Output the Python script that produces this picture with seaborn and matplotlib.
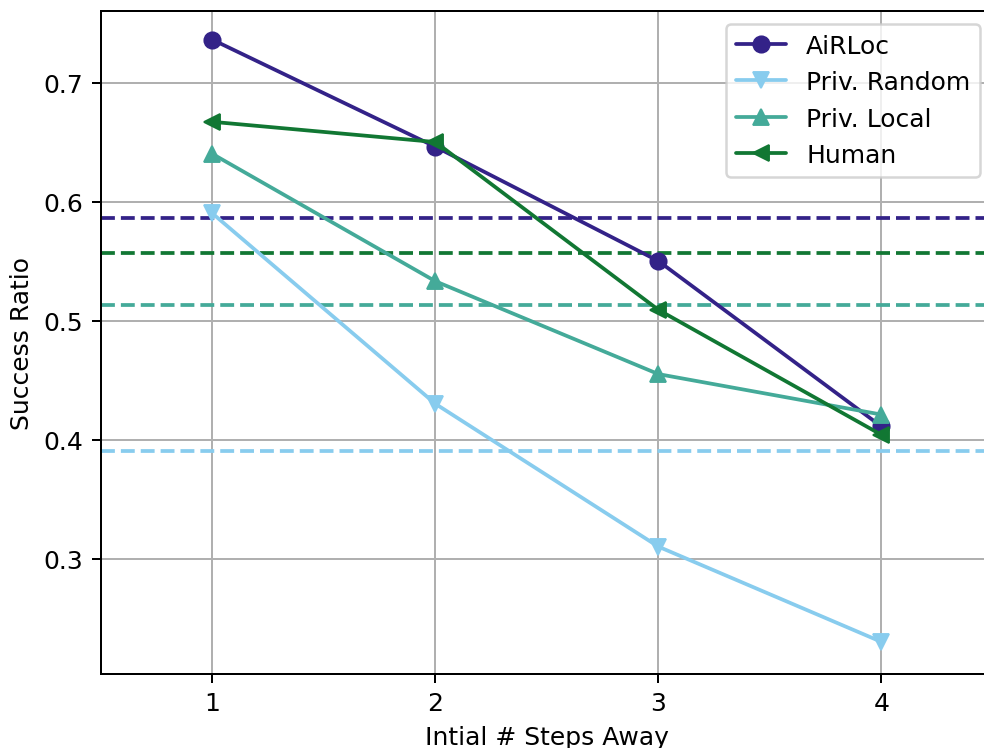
import numpy as np
import pandas as pd
import matplotlib
matplotlib.use("Agg")
import matplotlib.pyplot as plt
import seaborn as sns

# data
steps = [1, 2, 3, 4]
airloc = [0.736, 0.646, 0.550, 0.411]
priv_random = [0.590, 0.430, 0.310, 0.230]
priv_local = [0.640, 0.533, 0.455, 0.421]
human = [0.667, 0.650, 0.509, 0.404]

# averages (dashed lines)
avg_airloc = 0.586
avg_random = 0.390
avg_local = 0.513
avg_human = 0.557

names = ["AiRLoc", "Priv. Random", "Priv. Local", "Human"]
colors = ["#332288", "#88CCEE", "#44AA99", "#117733"]
markers = ["o", "v", "^", "<"]

sns.set_style("ticks")
plt.rcParams["font.family"] = ["DejaVu Sans"]
plt.rcParams["text.color"] = "black"
plt.rcParams["axes.labelcolor"] = "black"
plt.rcParams["xtick.color"] = "black"
plt.rcParams["ytick.color"] = "black"

df = pd.DataFrame({
    "step": steps * 4,
    "ratio": airloc + priv_random + priv_local + human,
    "method": sum([[n] * len(steps) for n in names], []),
})

fig = plt.figure(figsize=(5.467, 4.161), dpi=180)
ax = fig.add_axes([0.1026, 0.0988, 0.9064, 0.885])

for n, c, m in zip(names, colors, markers):
    sub = df[df["method"] == n]
    sns.lineplot(data=sub, x="step", y="ratio", color=c, marker=m,
                 markersize=6.5, markeredgecolor=c, linewidth=1.5,
                 label=n, ax=ax, zorder=3)

for v, c in zip([avg_airloc, avg_random, avg_local, avg_human], colors):
    ax.axhline(v, color=c, linestyle="--", linewidth=1.5, zorder=2)

ax.set_xlim(0.5, 4.5)
ax.set_ylim(0.203, 0.76)
ax.set_xticks(steps)
ax.set_yticks([0.3, 0.4, 0.5, 0.6, 0.7])
ax.grid(True, color="#b0b0b0", linewidth=0.8)
ax.set_axisbelow(True)
for s in ax.spines.values():
    s.set_linewidth(0.8)
    s.set_color("black")
ax.tick_params(labelsize=10, length=3.5, width=0.8, color="black")
ax.set_xlabel("Intial # Steps Away", fontsize=10)
ax.set_ylabel("Success Ratio", fontsize=10)
ax.legend(loc="upper right", fontsize=10, frameon=True)

fig.savefig("out.png", dpi=180)
